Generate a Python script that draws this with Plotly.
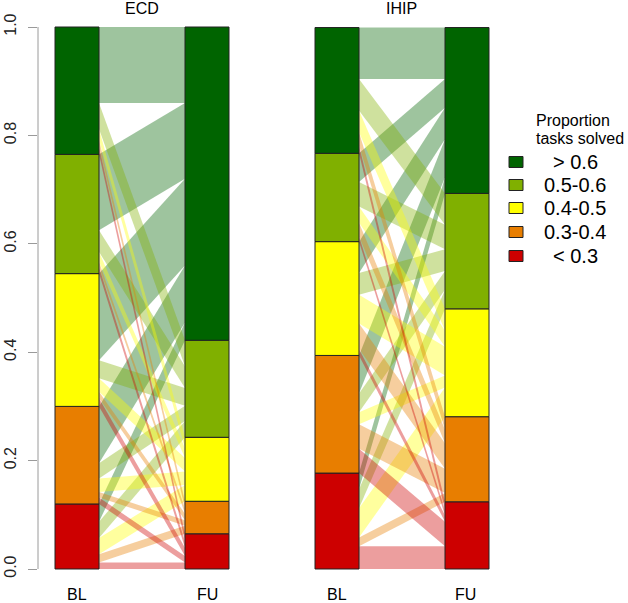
import plotly.graph_objects as go

W, H = 628, 603

# ---------------- data ----------------
categories = ["< 0.3", "0.3-0.4", "0.4-0.5", "0.5-0.6", "> 0.6"]
cat_colors = ["#CD0000", "#E87E00", "#FFFF00", "#80B000", "#006400"]
time_labels = ["BL", "FU"]
panel_titles = ["ECD", "IHIP"]
y_ticks = [0.0, 0.2, 0.4, 0.6, 0.8, 1.0]
y_tick_labels = ["0.0", "0.2", "0.4", "0.6", "0.8", "1.0"]
legend_title = ["Proportion", "tasks solved"]

# proportion of subjects moving from a BL category (row) to each FU category
# (columns ordered as categories: < 0.3, 0.3-0.4, 0.4-0.5, 0.5-0.6, > 0.6)
ecd_from_lt03 = [0.012, 0.015, 0.030, 0.030, 0.033]
ecd_from_03_04 = [0.012, 0.010, 0.025, 0.028, 0.105]
ecd_from_04_05 = [0.015, 0.012, 0.025, 0.033, 0.160]
ecd_from_05_06 = [0.012, 0.010, 0.018, 0.040, 0.140]
ecd_from_gt06 = [0.014, 0.013, 0.020, 0.048, 0.140]

ihip_from_lt03 = [0.042, 0.016, 0.054, 0.035, 0.030]
ihip_from_03_04 = [0.045, 0.045, 0.022, 0.035, 0.070]
ihip_from_04_05 = [0.012, 0.047, 0.053, 0.040, 0.058]
ihip_from_05_06 = [0.010, 0.025, 0.030, 0.045, 0.053]
ihip_from_gt06 = [0.015, 0.024, 0.040, 0.058, 0.095]

panels = [
    [ecd_from_lt03, ecd_from_03_04, ecd_from_04_05, ecd_from_05_06, ecd_from_gt06],
    [ihip_from_lt03, ihip_from_03_04, ihip_from_04_05, ihip_from_05_06, ihip_from_gt06],
]

# ---------------- geometry / style ----------------
FLOW_ALPHA = 0.38
HALF_W = 22 / 130.0          # half bar width in x units
X_RANGE = [0.7, 2.3]
PX_DOMAINS = [(38, 246), (298, 506)]
PAD = 0.01
Y_TOP_PX, Y_BOT_PX = 27, 569
PX_PER_UNIT = (Y_BOT_PX - Y_TOP_PX)
y_dom = [1 - (Y_BOT_PX + PAD * PX_PER_UNIT) / H, 1 - (Y_TOP_PX - PAD * PX_PER_UNIT) / H]


def rgba(hexc, a):
    hexc = hexc.lstrip("#")
    r, g, b = int(hexc[0:2], 16), int(hexc[2:4], 16), int(hexc[4:6], 16)
    return f"rgba({r},{g},{b},{a})"


fig = go.Figure()
n = len(categories)

for p, mat in enumerate(panels):
    xa = "x" if p == 0 else "x2"
    ya = "y" if p == 0 else "y2"
    row_tot = [sum(r) for r in mat]
    col_tot = [sum(mat[b][f] for b in range(n)) for f in range(n)]
    bl_base, fu_base = [], []
    acc = 0.0
    for v in row_tot:
        bl_base.append(acc)
        acc += v
    acc = 0.0
    for v in col_tot:
        fu_base.append(acc)
        acc += v

    bl_pos = {}
    for b in range(n):
        s = bl_base[b]
        for f in range(n):
            bl_pos[(b, f)] = (s, s + mat[b][f])
            s += mat[b][f]
    fu_pos = {}
    for f in range(n):
        s = fu_base[f]
        for b in range(n):
            fu_pos[(b, f)] = (s, s + mat[b][f])
            s += mat[b][f]

    x1 = 1 + HALF_W
    x2 = 2 - HALF_W
    for b in range(n):
        for f in range(n):
            if mat[b][f] <= 0:
                continue
            (a0, a1), (c0, c1) = bl_pos[(b, f)], fu_pos[(b, f)]
            fig.add_trace(go.Scatter(
                x=[x1, x1, x2, x2, x1], y=[a0, a1, c1, c0, a0],
                mode="lines", fill="toself", fillcolor=rgba(cat_colors[f], FLOW_ALPHA),
                line=dict(width=0), hoverinfo="skip", showlegend=False,
                xaxis=xa, yaxis=ya))

    for xi, (base, tot) in zip([1, 2], [(bl_base, row_tot), (fu_base, col_tot)]):
        for k in range(n):
            y0, y1 = base[k], base[k] + tot[k]
            fig.add_trace(go.Scatter(
                x=[xi - HALF_W, xi + HALF_W, xi + HALF_W, xi - HALF_W, xi - HALF_W],
                y=[y0, y0, y1, y1, y0], mode="lines", fill="toself",
                fillcolor=cat_colors[k], line=dict(color="#222222", width=1),
                hoverinfo="skip", showlegend=False, xaxis=xa, yaxis=ya))

fig.update_layout(
    width=W, height=H, autosize=False, margin=dict(l=0, r=0, t=0, b=0, pad=0),
    paper_bgcolor="white", plot_bgcolor="white",
    font=dict(family="Liberation Sans, Arial, sans-serif", color="black"),
    showlegend=False,
    xaxis=dict(domain=[PX_DOMAINS[0][0] / W, PX_DOMAINS[0][1] / W], range=X_RANGE,
               visible=False, fixedrange=True, automargin=False),
    xaxis2=dict(domain=[PX_DOMAINS[1][0] / W, PX_DOMAINS[1][1] / W], range=X_RANGE,
                visible=False, fixedrange=True, automargin=False),
    yaxis=dict(domain=y_dom, range=[-PAD, 1 + PAD], anchor="x", automargin=False,
               tickvals=y_ticks, ticktext=y_tick_labels, tickangle=-90,
               ticks="outside", ticklen=9, tickcolor="#9a9a9a", tickwidth=1,
               showgrid=False, zeroline=False, showline=False, fixedrange=True,
               tickfont=dict(size=16, color="#222222"), ticklabelstandoff=6),
    yaxis2=dict(domain=y_dom, range=[-PAD, 1 + PAD], anchor="x2", visible=False,
                automargin=False, fixedrange=True),
)

fig.add_shape(type="line", xref="paper", yref="y", x0=38 / W, x1=38 / W, y0=0, y1=1,
              line=dict(color="#9a9a9a", width=1))

centers_px = [(77, 207), (337, 466)]
for p, title in enumerate(panel_titles):
    cx = (centers_px[p][0] + centers_px[p][1]) / 2
    fig.add_annotation(x=cx / W, y=1 - 8 / H, xref="paper", yref="paper", text=title,
                       showarrow=False, font=dict(size=16), xanchor="center", yanchor="middle")
    for i, lab in enumerate(time_labels):
        fig.add_annotation(x=centers_px[p][i] / W, y=1 - 594 / H, xref="paper", yref="paper",
                           text=lab, showarrow=False, font=dict(size=16),
                           xanchor="center", yanchor="middle")

fig.add_annotation(x=534 / W, y=1 - 121 / H, xref="paper", yref="paper", text=legend_title[0],
                   showarrow=False, font=dict(size=16), xanchor="left", yanchor="middle")
fig.add_annotation(x=534 / W, y=1 - 139 / H, xref="paper", yref="paper", text=legend_title[1],
                   showarrow=False, font=dict(size=16), xanchor="left", yanchor="middle")
row_y = [256, 232, 208, 185, 162]
for k in range(n):
    yc = row_y[k]
    fig.add_shape(type="rect", xref="paper", yref="paper",
                  x0=509 / W, x1=523 / W, y0=1 - (yc + 5.5) / H, y1=1 - (yc - 5.5) / H,
                  fillcolor=cat_colors[k], line=dict(color="#222222", width=1))
    fig.add_annotation(x=575 / W, y=1 - yc / H, xref="paper", yref="paper", text=categories[k],
                       showarrow=False, font=dict(size=20), xanchor="center", yanchor="middle")

post = (
    "document.documentElement.style.margin='0';document.documentElement.style.padding='0';"
    "document.documentElement.style.overflow='hidden';"
    "document.body.style.margin='0';document.body.style.padding='0';"
    "document.body.style.overflow='hidden';"
    "Plotly.relayout('{plot_id}', {width: 628, height: 603});"
)
fig.write_html("out.html", post_script=post, config={"displayModeBar": False})
